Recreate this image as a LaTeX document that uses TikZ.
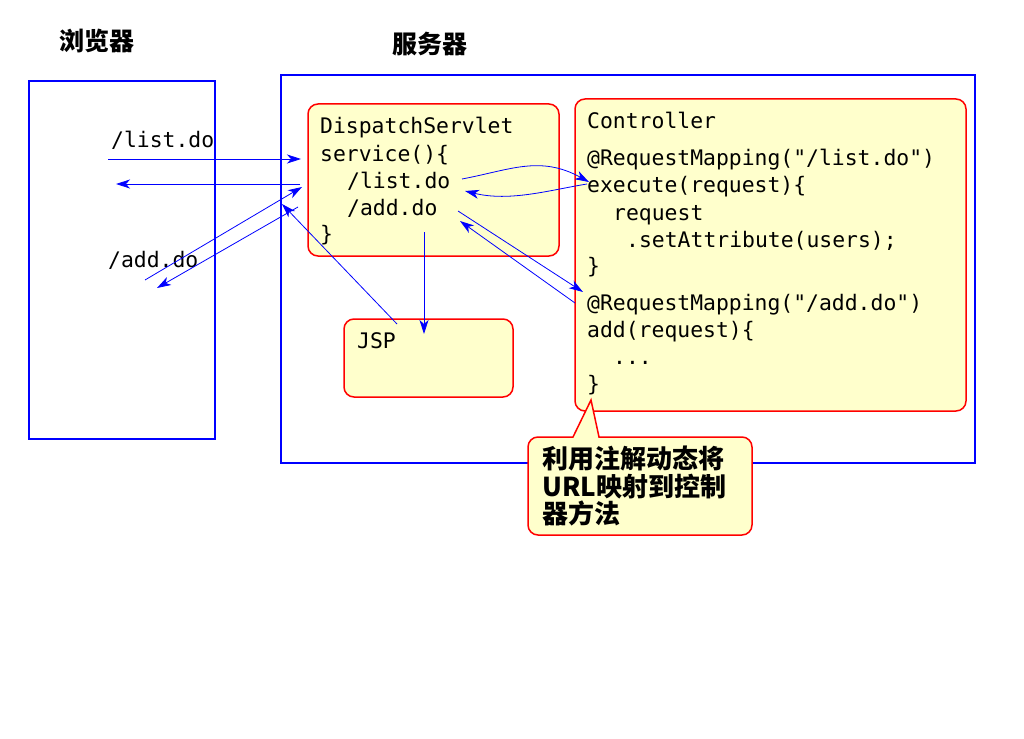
\documentclass[tikz,border=0pt]{standalone}
\usepackage{fontspec}
\setmonofont{DejaVu Sans Mono}
\newfontfamily\cjk{Noto Sans CJK SC}
\usetikzlibrary{arrows.meta}
\definecolor{boxfill}{HTML}{FFFFCC}
\tikzset{
  code/.style={font=\ttfamily\fontsize{21.4}{27}\selectfont, inner sep=0pt, anchor=base west},
  cjklabel/.style={font=\cjk\bfseries\fontsize{25}{28}\selectfont, inner sep=0pt},
  cjknote/.style={font=\cjk\bfseries\fontsize{26}{28}\selectfont, inner sep=0pt, anchor=base west},
  bluebox/.style={draw=blue, line width=1.6pt},
  redbox/.style={draw=red, line width=1.5pt, fill=boxfill, rounded corners=10pt},
  arr/.style={draw=blue, line width=0.8pt, -{Stealth[length=14pt,width=9pt,inset=4pt]}},
}
\begin{document}
\begin{tikzpicture}[x=1pt,y=-1pt]
\useasboundingbox (0,0) rectangle (1024,738);
% titles
\node[cjklabel] (tb) at (97,41) {浏览器};
\node[cjklabel] (ts) at (430,44) {服务器};
% outer boxes
\draw[bluebox] (29,81) rectangle (215,439);
\draw[bluebox] (281,75) rectangle (975,463);
% inner boxes
\draw[redbox] (308,104) rectangle (559,256);
\draw[redbox] (575,99) rectangle (966,411);
\draw[redbox] (344,319) rectangle (513,397);
% DispatchServlet text
\node[code] (d1) at (320,134) {DispatchServlet};
\node[code] (d2) at (320,161) {service()\{};
\node[code] (d3) at (347,188) {/list.do};
\node[code] (d4) at (347,215) {/add.do};
\node[code] (d5) at (320,241) {\}};
% Controller text
\node[code] (c1) at (587,129) {Controller};
\node[code] (c2) at (587,166) {@RequestMapping("/list.do")};
\node[code] (c3) at (587,193) {execute(request)\{};
\node[code] (c4) at (613,220) {request};
\node[code] (c5) at (626,247) {.setAttribute(users);};
\node[code] (c6) at (587,273) {\}};
\node[code] (c7) at (587,310) {@RequestMapping("/add.do")};
\node[code] (c8) at (587,337) {add(request)\{};
\node[code] (c9) at (613,364) {...};
\node[code] (c10) at (587,391) {\}};
% JSP
\node[code] (j1) at (357,348) {JSP};
% browser labels
\node[code] (b1) at (111,148) {/list.do};
\node[code] (b2) at (108,267) {/add.do};
% callout
\draw[draw=red, line width=1.5pt, fill=boxfill]
  (599,437) [rounded corners=10pt] -- (752,437) -- (752,535) -- (528,535) -- (528,437) [sharp corners] -- (573,437) -- (591,400) -- cycle;
\node[cjknote] (n1) at (542,468) {利用注解动态将};
\node[cjknote] (n2) at (542,496) {URL映射到控制};
\node[cjknote] (n3) at (542,523) {器方法};
% connector coordinates
\coordinate (a1s) at (108,159); \coordinate (a1e) at (301,159);
\coordinate (a2s) at (300,184); \coordinate (a2e) at (116,184);
\coordinate (a3s) at (145,280); \coordinate (a3e) at (302,187);
\coordinate (a4s) at (298,207); \coordinate (a4e) at (157,288);
\coordinate (a5s) at (397,324); \coordinate (a5e) at (282,204);
\coordinate (a6s) at (424,232); \coordinate (a6e) at (424,334);
\coordinate (a7s) at (462,179); \coordinate (a7e) at (589,182);
\coordinate (a8s) at (587,184); \coordinate (a8e) at (465,191);
\coordinate (a9s) at (458,211); \coordinate (a9e) at (583,292);
\coordinate (a10s) at (575,303); \coordinate (a10e) at (460,221);
% connectors
\draw[arr] (a1s) -- (a1e);
\draw[arr] (a2s) -- (a2e);
\draw[arr] (a3s) -- (a3e);
\draw[arr] (a4s) -- (a4e);
\draw[arr] (a5s) -- (a5e);
\draw[arr] (a6s) -- (a6e);
\draw[arr] (a7s) .. controls (510,170) and (540,155) .. (a7e);
\draw[arr] (a8s) .. controls (550,190) and (510,202) .. (a8e);
\draw[arr] (a9s) -- (a9e);
\draw[arr] (a10s) -- (a10e);
\end{tikzpicture}
\end{document}
